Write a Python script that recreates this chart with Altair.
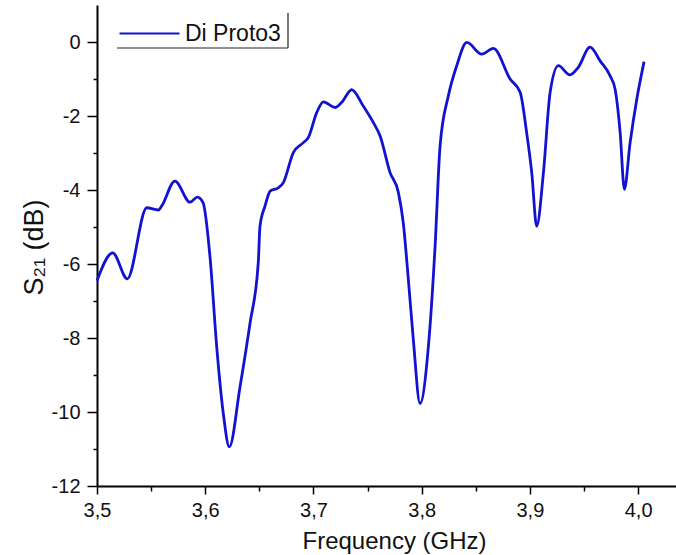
import altair as alt
import pandas as pd

# ---- data ----
freq = [3.500, 3.5145, 3.528, 3.546, 3.5567, 3.5598, 3.572, 3.586, 3.5927, 3.598,
        3.6044, 3.6106, 3.6167, 3.6223, 3.6322, 3.6414, 3.649, 3.6506, 3.6553, 3.660,
        3.6676, 3.6722, 3.6814, 3.6907, 3.6953, 3.703, 3.7092, 3.720, 3.7262, 3.7353,
        3.746, 3.7554, 3.7616, 3.7708, 3.7785, 3.783, 3.7877, 3.7923, 3.7985, 3.8062,
        3.8124, 3.817, 3.8247, 3.8324, 3.8417, 3.8555, 3.8663, 3.8817, 3.891, 3.897,
        3.9017, 3.9063, 3.9125, 3.9187, 3.9263, 3.937, 3.9446, 3.9556, 3.9649, 3.974,
        3.9787, 3.9834, 3.9873, 3.9926, 3.9988, 4.0055]
s21 = [-6.45, -5.70, -6.40, -4.48, -4.54, -4.43, -3.76, -4.33, -4.19, -4.34,
       -5.80, -8.23, -10.04, -10.94, -9.31, -7.60, -5.97, -4.98, -4.43, -4.03,
       -3.94, -3.80, -2.99, -2.72, -2.58, -1.91, -1.62, -1.77, -1.63, -1.29,
       -1.73, -2.18, -2.54, -3.53, -4.07, -4.89, -6.42, -8.05, -9.77, -8.23,
       -5.52, -2.81, -1.45, -0.64, -0.01, -0.33, -0.17, -1.00, -1.36, -2.45,
       -3.53, -4.98, -3.53, -1.36, -0.64, -0.89, -0.69, -0.14, -0.51, -0.91,
       -1.27, -2.45, -3.98, -2.72, -1.54, -0.53]
series_name = "Di Proto3"

x_tick_values = [3.50, 3.55, 3.60, 3.65, 3.70, 3.75, 3.80, 3.85, 3.90, 3.95, 4.00]
y_tick_values = [-12, -11, -10, -9, -8, -7, -6, -5, -4, -3, -2, -1, 0]

df = pd.DataFrame({"freq": freq, "s21": s21, "series": [series_name] * len(freq)})

FONT = "Liberation Sans"
LINE_COLOR = "#1212d0"

x_axis = alt.Axis(
    values=x_tick_values,
    labelExpr="round(datum.value*100) % 10 == 0 ? replace(format(datum.value, '.1f'), '.', ',') : ''",
    tickSize={"condition": {"test": "round(datum.value*100) % 10 == 0", "value": 8}, "value": 5},
    tickColor="black", tickWidth=1.5,
    domainColor="black", domainWidth=2,
    labelFont=FONT, labelFontSize=20, labelColor="#111", labelPadding=6,
    labelFlush=False, labelOverlap=False, grid=False,
    titleFont=FONT, titleFontSize=24, titleFontWeight="normal", titleColor="#111",
    titleX=297, titleY=62, titleBaseline="alphabetic", titleAlign="center",
)
y_axis = alt.Axis(
    values=y_tick_values,
    labelExpr="datum.value % 2 == 0 ? '' + datum.value : ''",
    tickSize={"condition": {"test": "datum.value % 2 == 0", "value": 10}, "value": 4},
    tickColor="black", tickWidth=1.5,
    domainColor="black", domainWidth=2,
    labelFont=FONT, labelFontSize=20, labelColor="#111", labelPadding=7,
    labelFlush=False, labelOverlap=False, grid=False,
    titleFont=FONT, titleFontSize=27, titleFontWeight="normal", titleColor="#111",
    titleX=-55, titleY=242, titleAngle=270, titleBaseline="alphabetic", titleAlign="center",
)

line = alt.Chart(df).mark_line(strokeWidth=2.8, interpolate="monotone").encode(
    x=alt.X("freq:Q", scale=alt.Scale(domain=[3.5, 4.035], nice=False, zero=False),
            axis=x_axis, title="Frequency (GHz)"),
    y=alt.Y("s21:Q", scale=alt.Scale(domain=[-12, 1], nice=False, zero=False),
            axis=y_axis, title="S₂₁ (dB)"),
    color=alt.Color("series:N", scale=alt.Scale(range=[LINE_COLOR]),
                    legend=alt.Legend(title=None, orient="none", legendX=21, legendY=-3,
                                      symbolType="stroke", symbolSize=3600, symbolStrokeWidth=2.2,
                                      labelFont=FONT, labelFontSize=23, labelColor="#111",
                                      labelOffset=4, padding=0)),
)

frame_df = pd.DataFrame({"k": [0]})
frame_bottom = alt.Chart(frame_df).mark_rule(color="#222", strokeWidth=1.2).encode(
    x=alt.value(20), x2=alt.value(191), y=alt.value(43))
frame_right = alt.Chart(frame_df).mark_rule(color="#222", strokeWidth=1.2).encode(
    x=alt.value(191), y=alt.value(8), y2=alt.value(43))

chart = alt.layer(line, frame_bottom, frame_right).properties(
    width=579, height=481,
    autosize=alt.AutoSizeParams(type="none"),
    padding={"left": 97, "top": 5, "right": 0, "bottom": 69},
    background="white",
).configure_view(stroke=None)

chart.save("out.html", embed_options={"renderer": "svg", "actions": False})
